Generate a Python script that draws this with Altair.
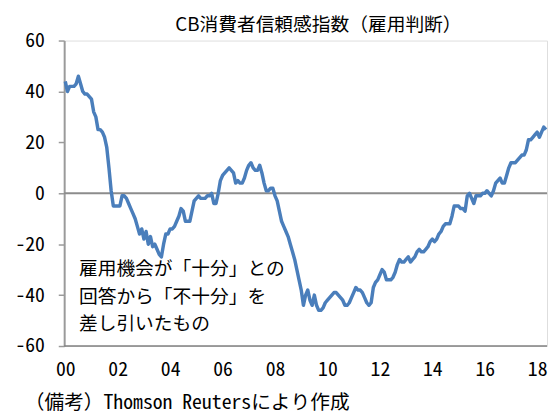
import altair as alt
import pandas as pd

# Monthly values (Jan 2000 - May 2018)
y2000 = [44, 40, 42, 42, 42, 43, 46, 43, 40, 39, 39, 38]
y2001 = [37, 32, 30, 25, 25, 24, 22, 18, 10, 1, -5, -5]
y2002 = [-5, -5, -1, -1, -2, -4, -6, -8, -10, -13, -16, -14]
y2003 = [-18, -15, -20, -17, -21, -20, -22, -24, -25, -20, -16, -16]
y2004 = [-14, -14, -13, -11, -9, -6, -7, -11, -11, -11, -7, -3]
y2005 = [-2, -1, -2, -2, -2, -1, -1, 0, -4, -4, 0, 5]
y2006 = [7, 8, 9, 10, 9, 8, 4, 5, 4, 4, 6, 9]
y2007 = [11, 12, 10, 9, 9, 11, 8, 4, 1, 1, 2, 2]
y2008 = [-1, -3, -7, -11, -13, -15, -17, -20, -23, -26, -30, -34]
y2009 = [-38, -44, -40, -38, -42, -44, -40, -44, -46, -46, -45, -43]
y2010 = [-42, -41, -40, -39, -39, -40, -41, -42, -44, -44, -43, -41]
y2011 = [-39, -37, -38, -38, -39, -41, -43, -44, -43, -37, -35, -34]
y2012 = [-32, -30, -31, -34, -34, -34, -33, -31, -28, -26, -27, -27]
y2013 = [-26, -25, -27, -26, -25, -23, -22, -23, -23, -22, -21, -19]
y2014 = [-18, -19, -18, -16, -15, -13, -12, -12, -12, -9, -5, -5]
y2015 = [-5, -6, -6, -7, -1, 0, -2, -4, -1, -1, -1, 0]
y2016 = [0, 1, 0, -1, 1, 4, 5, 6, 4, 4, 7, 10]
y2017 = [12, 12, 12, 13, 14, 15, 15, 17, 21, 21, 22, 23]
y2018 = [24, 22, 24, 26, 25]

x_labels = ["00", "02", "04", "06", "08", "10", "12", "14", "16", "18"]
y_ticks = [-60, -40, -20, 0, 20, 40, 60]

title_text = "CB消費者信頼感指数（雇用判断）"
note_lines = ["雇用機会が「十分」との", "回答から「不十分」を", "差し引いたもの"]
source_text = "（備考）Thomson Reutersにより作成"

values = (y2000 + y2001 + y2002 + y2003 + y2004 + y2005 + y2006 + y2007 + y2008
          + y2009 + y2010 + y2011 + y2012 + y2013 + y2014 + y2015 + y2016 + y2017 + y2018)
df = pd.DataFrame({"m": list(range(len(values))), "v": values})
n = len(values)

FONT = "Noto Sans CJK JP"
MONO = "Noto Sans Mono CJK JP, Noto Sans CJK JP"

label_arr = "[" + ",".join("'" + s + "'" for s in x_labels) + "]"

xscale = alt.Scale(domain=[-0.5, n - 0.5], nice=False, zero=False)
yscale = alt.Scale(domain=[-60, 60], nice=False)

xaxis = alt.Axis(values=[i * 24 for i in range(len(x_labels))],
                 labelExpr=label_arr + "[round(datum.value / 24)]",
                 domain=False, ticks=False, grid=False, title=None,
                 labelFont=MONO, labelFontSize=20, labelColor="#000",
                 labelPadding=14, labelFlush=False)
yaxis = alt.Axis(values=y_ticks, labelExpr="toString(datum.value)",
                 domain=True, domainColor="#9a9a9a", domainWidth=2,
                 ticks=True, tickColor="#9a9a9a", tickSize=6, tickWidth=1.5,
                 grid=False, title=None, labelFont=MONO, labelFontSize=20,
                 labelColor="#000", labelPadding=14)

line = alt.Chart(df).mark_line(color="#4a7ebb", strokeWidth=3.5, strokeJoin="round").encode(
    x=alt.X("m:Q", scale=xscale, axis=xaxis),
    y=alt.Y("v:Q", scale=yscale, axis=yaxis),
)

zero = alt.Chart(pd.DataFrame({"y": [0]})).mark_rule(color="#8c8c8c", strokeWidth=2).encode(
    y=alt.Y("y:Q", scale=yscale)
)
bottom = alt.Chart(pd.DataFrame({"y": [-60]})).mark_rule(color="#808080", strokeWidth=1.5).encode(
    y=alt.Y("y:Q", scale=yscale)
)

note_layers = []
for i, t in enumerate(note_lines):
    note_layers.append(
        alt.Chart(pd.DataFrame({"t": [t]})).mark_text(
            align="left", baseline="middle", font=FONT, fontSize=19, color="#000"
        ).encode(x=alt.value(15), y=alt.value(232 + i * 28), text="t:N")
    )

title = alt.Chart(pd.DataFrame({"t": [title_text]})).mark_text(
    align="center", baseline="middle", font=FONT, fontSize=19, color="#000"
).encode(x=alt.value(258), y=alt.value(-16), text="t:N")

source = alt.Chart(pd.DataFrame({"t": [source_text]})).mark_text(
    align="left", baseline="middle", font=MONO, fontSize=20, color="#000"
).encode(x=alt.value(-40), y=alt.value(368), text="t:N")

chart = alt.layer(zero, bottom, line, *note_layers, title, source).properties(
    width=490, height=310,
    autosize=alt.AutoSizeParams(type="none"),
    padding={"left": 57, "top": 30, "right": 2, "bottom": 69},
).configure_view(stroke="#2a2a2a", strokeWidth=1.5).configure(background="white")

chart.save("out.html", embed_options={"renderer": "svg", "actions": False})
